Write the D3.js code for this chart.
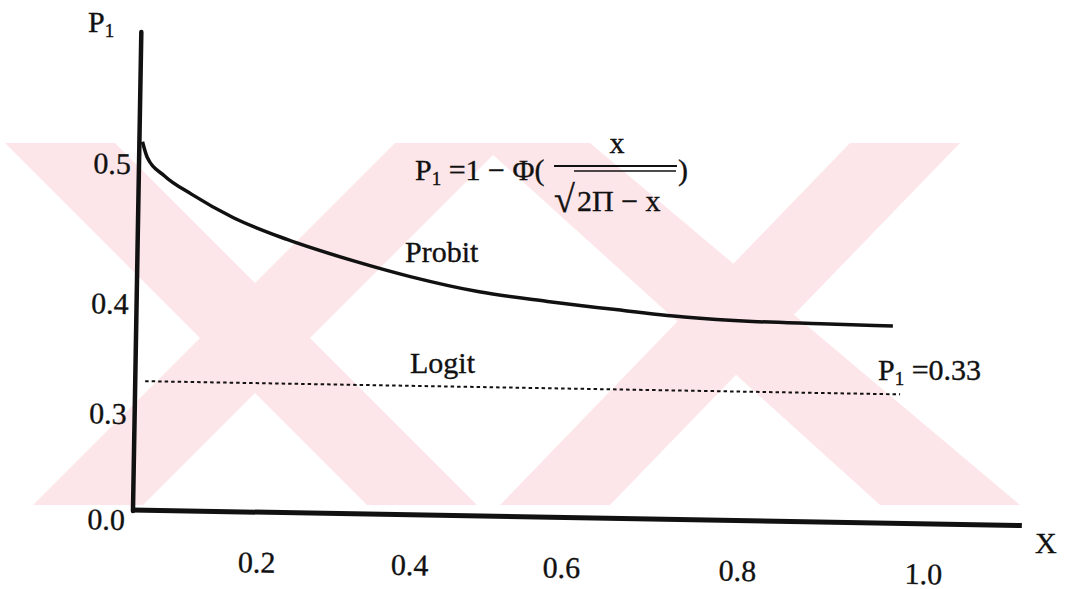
<!DOCTYPE html>
<html>
<head>
<meta charset="utf-8">
<script src="https://cdn.jsdelivr.net/npm/d3@7"></script>
<style>
  body { margin: 0; background: #fff; }
  text { font-family: "Liberation Serif", "Times New Roman", serif; fill: #111; stroke: #111; stroke-width: 0.35px; }
</style>
</head>
<body>
<div id="chart"></div>
<script>
const width = 1067;
const height = 589;

// values
const xTicks = [0.2, 0.4, 0.6, 0.8, 1.0];
const yTicks = [0.0, 0.3, 0.4, 0.5];
const probitX = [0.005, 0.013, 0.041, 0.086, 0.153, 0.233, 0.324, 0.395, 0.486, 0.576, 0.657, 0.735, 0.812, 0.886, 0.963];
const probitY = [0.516, 0.505, 0.492, 0.479, 0.463, 0.448, 0.433, 0.423, 0.413, 0.407, 0.402, 0.397, 0.394, 0.393, 0.392];
const logitX = [0.016, 0.972];
const logitY = [0.33, 0.33];

// the hand drawn axes are not evenly spaced, so the scales are piecewise
const x = d3.scaleLinear()
  .domain([0, 0.2, 0.4, 0.6, 0.8, 1.0])
  .range([0, 124, 277, 429, 605, 791]);
const y = d3.scaleLinear()
  .domain([0, 0.3, 0.4, 0.5])
  .range([0, -95, -205, -345]);

const svg = d3.select('#chart').append('svg')
  .attr('width', width)
  .attr('height', height);

// pale watermark behind the figure: two crossed bands, twice
const wm = svg.append('g').style('fill', '#fde6ea');
const band = (x1, x2, x3, x4) => [[x1,143],[x2,143],[x4,505],[x3,505]];
const shapes = [
  band(5, 115, 367, 477),
  band(395, 505, 33, 143),
  band(480, 590, 880, 1020),
  band(850, 960, 500, 610)
];
shapes.forEach(s => wm.append('polygon').attr('points', s.map(p => p.join(',')).join(' ')));

// scan is slightly skewed
const plot = svg.append('g')
  .attr('transform', 'translate(133,509) rotate(1)');

plot.append('line')
  .attr('x1', 0).attr('y1', 2)
  .attr('x2', 0).attr('y2', -477)
  .style('stroke', '#111')
  .style('stroke-width', 4.5)
  .style('stroke-linecap', 'round');

plot.append('line')
  .attr('x1', -1).attr('y1', 1)
  .attr('x2', 889).attr('y2', 1)
  .style('stroke', '#111')
  .style('stroke-width', 5);

const xAxis = plot.append('g')
  .call(d3.axisBottom(x).tickValues(xTicks).tickFormat(d3.format('.1f')).tickSize(0).tickPadding(40));
xAxis.select('.domain').remove();
xAxis.selectAll('text')
  .style('font-family', '"Liberation Serif", serif')
  .style('font-size', '30px')
  .style('fill', '#111');

const yAxis = plot.append('g')
  .call(d3.axisLeft(y).tickValues(yTicks).tickFormat(d3.format('.1f')).tickSize(0).tickPadding(8));
yAxis.select('.domain').remove();
yAxis.selectAll('text')
  .style('font-family', '"Liberation Serif", serif')
  .style('font-size', '30px')
  .style('fill', '#111')
  .attr('y', d => d === 0 ? 11 : 0);

const probit = probitX.map((v, i) => [v, probitY[i]]);
const logit = logitX.map((v, i) => [v, logitY[i]]);

const line = d3.line()
  .x(d => x(d[0]))
  .y(d => y(d[1]))
  .curve(d3.curveMonotoneX);

plot.append('path')
  .attr('d', line(probit))
  .style('fill', 'none')
  .style('stroke', '#111')
  .style('stroke-width', 3.5);

plot.append('path')
  .attr('d', line(logit))
  .style('fill', 'none')
  .style('stroke', '#111')
  .style('stroke-width', 2)
  .style('stroke-dasharray', '3.5,3');

// P with subscript 1, then whatever follows it
const pSub = (xPos, yPos, rest) => {
  const t = svg.append('text')
    .attr('x', xPos)
    .attr('y', yPos)
    .style('font-size', '30px');
  t.append('tspan').text('P');
  t.append('tspan').attr('dy', 5).style('font-size', '19px').text('1');
  if (rest) t.append('tspan').attr('dy', -5).text(rest);
  return t;
}

pSub(88, 32);
pSub(415, 180, '\u00a0=1 \u2212 \u03A6(');
pSub(878, 380, '\u00a0=0.33');

svg.append('text').attr('x', 617).attr('y', 153)
  .attr('text-anchor', 'middle').style('font-size', '30px').text('x');
svg.append('line')
  .attr('x1', 554).attr('y1', 166).attr('x2', 677).attr('y2', 166)
  .style('stroke', '#111').style('stroke-width', 2);
svg.append('text').attr('x', 554).attr('y', 212)
  .style('font-size', '38px').text('\u221A');
svg.append('line')
  .attr('x1', 574).attr('y1', 171).attr('x2', 676).attr('y2', 171)
  .style('stroke', '#111').style('stroke-width', 1.5);
svg.append('text').attr('x', 577).attr('y', 211)
  .style('font-size', '30px').text('2\u03A0 \u2212 x');
svg.append('text').attr('x', 678).attr('y', 180)
  .style('font-size', '30px').text(')');

svg.append('text').attr('x', 405).attr('y', 262)
  .style('font-size', '30px').text('Probit');
svg.append('text').attr('x', 410).attr('y', 373)
  .style('font-size', '30px').text('Logit');
svg.append('text').attr('x', 1035).attr('y', 553)
  .style('font-size', '30px').text('X');
</script>
</body>
</html>
